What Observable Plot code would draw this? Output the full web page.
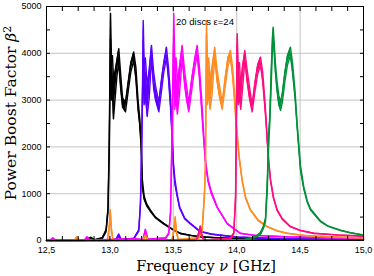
<!DOCTYPE html>
<html>
<head>
<meta charset="utf-8">
<script src="https://cdn.jsdelivr.net/npm/d3@7"></script>
<script src="https://cdn.jsdelivr.net/npm/@observablehq/plot@0.6"></script>
<style>
  html, body { margin: 0; padding: 0; background: #fff; }
  #chart { width: 374px; height: 276px; }
</style>
</head>
<body>
<div id="chart"></div>
<script>
// ---- data: rows are [frequency GHz, band low, band high] ----
const black = [[12.50,0,0],[12.80,0,5],[12.85,40,70],[12.88,5,15],[12.94,40,60],[12.97,190,230],[12.985,600,700],[12.995,1900,2200],[13.000,3000,3600],[13.005,4300,4850],[13.012,3000,3900],[13.020,3200,3950],[13.028,2600,3500],[13.040,3000,3600],[13.055,3500,3850],[13.070,3800,4100],[13.085,3250,3550],[13.100,2850,3050],[13.123,2750,2950],[13.145,3200,3400],[13.165,3600,3800],[13.188,3850,4030],[13.205,3450,3700],[13.222,2800,3000],[13.236,2450,2600],[13.247,1950,2100],[13.256,1150,1300],[13.27,880,950],[13.29,740,780],[13.32,620,650],[13.36,480,500],[13.425,350,367],[13.49,240,250],[13.557,145,154],[13.64,105,110],[13.715,77,81],[13.85,57,60],[14.0,42,45],[14.3,28,30],[14.6,20,22],[15.0,13,15]];

const blue = [[12.50,0,0],[13.00,0,10],[13.05,10,30],[13.07,90,140],[13.09,5,20],[13.19,40,50],[13.228,200,230],[13.241,750,800],[13.250,1800,2000],[13.258,3200,3500],[13.263,4300,4700],[13.270,2900,3800],[13.280,3100,3900],[13.294,2650,3300],[13.310,3050,3650],[13.328,3900,4170],[13.345,3250,3600],[13.360,3000,3300],[13.386,2750,2950],[13.405,3150,3400],[13.425,3600,3800],[13.446,3900,4130],[13.462,3450,3700],[13.478,2850,3100],[13.491,2150,2300],[13.50,1600,1700],[13.513,1200,1300],[13.53,950,1000],[13.55,690,720],[13.59,460,480],[13.63,365,380],[13.71,190,200],[13.80,133,140],[14.0,70,75],[14.3,42,45],[14.6,28,30],[15.0,20,22]];

const magenta = [[12.50,0,5],[12.53,0,5],[12.55,30,60],[12.57,0,10],[12.80,5,10],[12.82,50,80],[12.84,5,10],[13.20,10,40],[13.26,10,20],[13.28,180,240],[13.30,10,30],[13.44,40,60],[13.464,140,160],[13.478,550,600],[13.490,2000,2400],[13.498,3300,3700],[13.504,4400,4850],[13.512,2800,3800],[13.522,3100,3900],[13.532,2700,3400],[13.548,3100,3700],[13.570,3900,4170],[13.590,3300,3600],[13.605,3000,3300],[13.622,2750,2950],[13.645,3200,3450],[13.667,3650,3850],[13.688,3950,4170],[13.705,3500,3750],[13.722,2850,3100],[13.741,2100,2250],[13.755,1600,1700],[13.775,1250,1300],[13.80,1000,1050],[13.846,700,720],[13.925,355,367],[14.03,148,154],[14.15,105,110],[14.4,75,80],[14.7,60,65],[15.0,50,55]];

const orange = [[12.50,0,0],[12.72,0,5],[12.74,50,80],[12.76,0,5],[12.98,0,10],[12.995,250,300],[13.003,600,660],[13.012,200,260],[13.025,0,10],[13.26,5,15],[13.28,80,120],[13.30,5,15],[13.49,10,20],[13.505,200,250],[13.515,450,510],[13.525,150,200],[13.54,10,20],[13.70,40,60],[13.728,200,240],[13.745,900,1000],[13.754,1600,1700],[13.758,3000,3400],[13.762,4400,4700],[13.770,2900,3800],[13.780,3200,3900],[13.790,2800,3400],[13.805,3100,3700],[13.827,3900,4130],[13.845,3400,3650],[13.865,3050,3300],[13.886,2800,2950],[13.91,3300,3500],[13.93,3700,3900],[13.951,3900,4060],[13.968,3500,3700],[13.985,2900,3100],[13.997,2400,2500],[14.004,2200,2300],[14.02,1750,1800],[14.043,1270,1300],[14.07,900,930],[14.109,640,660],[14.17,420,440],[14.24,290,300],[14.32,200,210],[14.398,150,158],[14.55,100,105],[14.75,75,80],[15.0,55,60]];

const pink = [[12.50,0,0],[13.68,0,10],[13.70,120,160],[13.712,260,310],[13.725,100,140],[13.74,0,10],[13.95,30,50],[13.977,140,160],[13.991,880,940],[13.998,2500,2900],[14.004,4150,4420],[14.012,2900,3700],[14.022,3100,3800],[14.032,2800,3300],[14.045,3200,3700],[14.064,3850,4060],[14.082,3400,3650],[14.10,3050,3300],[14.122,2750,2900],[14.145,3200,3400],[14.165,3550,3750],[14.188,3750,3920],[14.205,3400,3600],[14.222,2850,3000],[14.232,2500,2600],[14.241,2100,2200],[14.253,1650,1700],[14.267,1270,1300],[14.29,900,930],[14.319,640,660],[14.36,450,470],[14.424,290,300],[14.50,210,220],[14.608,150,158],[14.8,115,120],[15.0,90,95]];

const green = [[12.50,0,0],[13.9,0,5],[14.056,5,15],[14.12,40,60],[14.16,80,110],[14.188,130,170],[14.21,250,300],[14.227,400,470],[14.241,1050,1250],[14.253,2100,2300],[14.261,2500,2650],[14.272,3300,3600],[14.282,4100,4350],[14.288,4400,4560],[14.296,4000,4200],[14.305,3600,3800],[14.318,3200,3400],[14.332,2900,3100],[14.346,2780,2950],[14.36,2950,3150],[14.38,3400,3600],[14.40,3750,3950],[14.424,3950,4130],[14.44,3600,3800],[14.46,3050,3200],[14.477,2400,2500],[14.49,1950,2050],[14.503,1500,1600],[14.529,1100,1150],[14.556,820,850],[14.582,650,680],[14.661,400,420],[14.72,300,310],[14.819,210,220],[14.9,160,168],[15.0,115,120]];

const seriesNames = ["black", "blue", "magenta", "orange", "pink", "green"];
const seriesData = [black, blue, magenta, orange, pink, green];
const seriesColors = ["#000000", "#5a00ff", "#ff00ff", "#ff8c22", "#ff0a80", "#00903a"];

const xLabelTicks = [12.5, 13.0, 13.5, 14.0, 14.5, 15.0];
const xMinorTicks = [12.5,12.625,12.75,12.875,13,13.125,13.25,13.375,13.5,13.625,13.75,13.875,14,14.125,14.25,14.375,14.5,14.625,14.75,14.875,15];
const xGrid = [13.0, 13.5, 14.0, 14.5];
const yLabelTicks = [0, 1000, 2000, 3000, 4000, 5000];
const yMinorTicks = [0,500,1000,1500,2000,2500,3000,3500,4000,4500,5000];
const yGrid = [1000, 2000, 3000, 4000];
const annotation = ["20 discs \u03b5=24"];

// ---- marks ----
const seriesMarks = [];
seriesData.forEach((rows, i) => {
  const c = seriesColors[i];
  seriesMarks.push(Plot.areaY(rows, {x: d => d[0], y1: d => d[1], y2: d => d[2], fill: c, fillOpacity: 1}));
  seriesMarks.push(Plot.line(rows, {x: d => d[0], y: d => d[2], stroke: c, strokeWidth: 1.4}));
  seriesMarks.push(Plot.line(rows, {x: d => d[0], y: d => d[1], stroke: c, strokeWidth: 1.4}));
});

const chart = Plot.plot({
  width: 374,
  height: 276,
  marginLeft: 46,
  marginRight: 11,
  marginTop: 6,
  marginBottom: 36,
  style: {fontFamily: "'Liberation Sans', Arial, sans-serif", fontSize: "9px", color: "#000", background: "#fff"},
  x: {domain: [12.5, 15], label: null},
  y: {domain: [0, 5000], label: null},
  marks: [
    Plot.ruleX(xGrid, {stroke: "#c4c4c4", strokeWidth: 1}),
    Plot.ruleY(yGrid, {stroke: "#c4c4c4", strokeWidth: 1}),
    ...seriesMarks,
    Plot.text(annotation, {frameAnchor: "top", dy: 12, fontSize: 9.5, fill: "#000"}),
    Plot.frame({stroke: "#000", strokeWidth: 1}),
    Plot.axisX({anchor: "bottom", ticks: xLabelTicks, tickSize: 0, tickPadding: 6, tickFormat: d => d.toFixed(1).replace(".", ","), label: null}),
    Plot.axisX({anchor: "bottom", ticks: xMinorTicks, tickSize: -4, tickFormat: () => "", label: null}),
    Plot.axisX({anchor: "top", ticks: xMinorTicks, tickSize: -4, tickFormat: () => "", label: null}),
    Plot.axisY({anchor: "left", ticks: yLabelTicks, tickSize: 0, tickPadding: 5, tickFormat: d => String(d), label: null}),
    Plot.axisY({anchor: "left", ticks: yMinorTicks, tickSize: -4, tickFormat: () => "", label: null}),
    Plot.axisY({anchor: "right", ticks: yMinorTicks, tickSize: -4, tickFormat: () => "", label: null})
  ]
});

document.getElementById("chart").appendChild(chart);

// ---- axis titles with italic symbols ----
const svg = d3.select(chart);
const xt = svg.append("text")
  .attr("x", 206).attr("y", 271)
  .attr("text-anchor", "middle")
  .style("font-family", "'DejaVu Serif', serif")
  .style("font-size", "14.5px")
  .attr("fill", "#000");
xt.append("tspan").text("Frequency ");
xt.append("tspan").style("font-style", "italic").text("\u03bd");
xt.append("tspan").text(" [GHz]");

const yt = svg.append("text")
  .attr("transform", "translate(16,113) rotate(-90)")
  .attr("text-anchor", "middle")
  .style("font-family", "'DejaVu Serif', serif")
  .style("font-size", "15.5px")
  .attr("fill", "#000");
yt.append("tspan").text("Power Boost Factor ");
yt.append("tspan").style("font-style", "italic").text("\u03b2");
yt.append("tspan").attr("dy", "-0.45em").style("font-size", "11px").text("2");
</script>
</body>
</html>
